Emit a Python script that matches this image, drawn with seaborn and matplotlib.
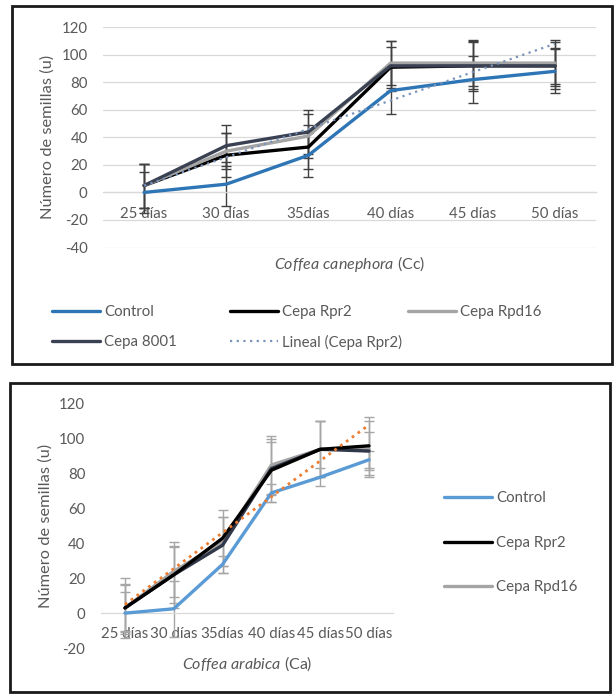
import numpy as np
import pandas as pd
import matplotlib
matplotlib.use("Agg")
import matplotlib.pyplot as plt
import seaborn as sns
from matplotlib.lines import Line2D
from matplotlib.patches import Rectangle

# ---------------- data ----------------
categories = ["25 días", "30 días", "35días", "40 días", "45 días", "50 días"]

# Coffea canephora (Cc)
cc_control = [0, 6, 27, 74, 82, 88]
cc_rpr2 = [5, 27, 33, 91, 92, 92]
cc_rpd16 = [5, 30, 41, 94, 94, 94]
cc_8001 = [5, 34, 44, 92, 92, 92]
cc_control_err = [15, 16, 16, 17, 17, 16]
cc_rpr2_err = [16, 16, 16, 15, 17, 17]
cc_rpd16_err = [16, 13, 16, 16, 17, 17]
cc_8001_err = [16, 15, 16, 18, 18, 13]
cc_trend_ends = [5, 108]  # Lineal (Cepa Rpr2), first and last category

# Coffea arabica (Ca)
ca_control = [0, 2.5, 28, 69, 78, 88]
ca_rpr2 = [3, 22, 43, 82, 94, 96]
ca_rpd16 = [3, 24, 41, 85, 94, 94]
ca_8001 = [3, 22, 39, 83, 94, 93]
ca_control_err = [12, 16, 5, 5, 5, 5]
ca_rpr2_err = [17, 19, 16, 18, 16, 16.5]
ca_rpd16_err = [14, 14.5, 14, 16.5, 16, 16]
ca_8001_err = [13, 16, 16, 15, 16, 11]
ca_trend_ends = [5, 108]

cc_ticks = list(range(-40, 121, 20))
ca_ticks = list(range(-20, 121, 20))

# ---------------- style ----------------
W, H = 615, 696
sns.set_theme(style="white")
plt.rcParams["font.family"] = ["Lato", "DejaVu Sans"]
plt.rcParams["axes.unicode_minus"] = False
plt.rcParams["mathtext.fontset"] = "custom"
plt.rcParams["mathtext.rm"] = "Lato"
plt.rcParams["mathtext.it"] = "Lato:italic"
TXT = "#595959"

fig = plt.figure(figsize=(W / 100, H / 100), dpi=100)
fig.patch.set_facecolor("white")


def px_axes(l, t, r, b):
    return fig.add_axes([l / W, 1 - b / H, (r - l) / W, (b - t) / H])


def draw_panel(ax, series, errs, palette, order, trend_ends, trend_kw,
               ticks, err_color, grid, xpad, title, title_y, ylab_x):
    pos = np.arange(len(categories))
    for name in order:
        ax.errorbar(pos, series[name], yerr=errs[name], fmt="none",
                    ecolor=err_color, elinewidth=1.0, capsize=3.5,
                    capthick=1.0, zorder=2)
    df = pd.concat([pd.DataFrame({"pos": pos, "value": series[n], "serie": n})
                    for n in order], ignore_index=True)
    sns.lineplot(data=df, x="pos", y="value", hue="serie", hue_order=order,
                 palette=palette, linewidth=2.4, legend=False, ax=ax,
                 errorbar=None, sort=False, zorder=3)
    ax.plot([pos[0], pos[-1]], trend_ends, zorder=4, **trend_kw)
    ax.set_xlim(-0.5, len(categories) - 0.5)
    ax.set_ylim(ticks[0], ticks[-1])
    ax.set_yticks(ticks)
    ax.set_yticklabels([str(t) for t in ticks])
    ax.set_xticks(pos)
    ax.set_xticklabels(categories)
    for s in ["top", "right", "left"]:
        ax.spines[s].set_visible(False)
    ax.spines["bottom"].set_position(("data", 0))
    ax.spines["bottom"].set_color("#D9D9D9")
    ax.spines["bottom"].set_linewidth(0.9)
    if grid:
        ax.yaxis.grid(True, color="#D9D9D9", linewidth=0.9)
    ax.set_axisbelow(True)
    ax.tick_params(axis="y", length=0, pad=11, labelsize=10.8, labelcolor=TXT)
    ax.tick_params(axis="x", length=0, pad=xpad, labelsize=10.8, labelcolor=TXT)
    ax.set_xlabel(title, fontsize=11.5, color=TXT)
    ax.xaxis.set_label_coords(0.5, title_y)
    ax.xaxis.label.set_verticalalignment("center")
    ax.set_ylabel("Número de semillas (u)", fontsize=11.8, color=TXT)
    ax.yaxis.set_label_coords(ylab_x, 0.5)
    ax.yaxis.label.set_verticalalignment("center")
    ax.set_facecolor("none")


def legend_entry(handle, label, x, y, fs=10.8):
    fig.legend(handles=[handle], labels=[label], loc="center left",
               bbox_to_anchor=(x / W, 1 - y / H), frameon=False,
               borderpad=0, borderaxespad=0, handlelength=48 / (fs * 1.389),
               handletextpad=0.3, fontsize=fs, labelcolor=TXT)


# ---------------- top panel: Coffea canephora ----------------
cc_colors = {"Control": "#2E75B6", "Cepa Rpr2": "#000000",
             "Cepa Rpd16": "#A5A5A5", "Cepa 8001": "#3A4152"}
cc_order = ["Control", "Cepa Rpr2", "Cepa Rpd16", "Cepa 8001"]
cc_series = {"Control": cc_control, "Cepa Rpr2": cc_rpr2,
             "Cepa Rpd16": cc_rpd16, "Cepa 8001": cc_8001}
cc_errs = {"Control": cc_control_err, "Cepa Rpr2": cc_rpr2_err,
           "Cepa Rpd16": cc_rpd16_err, "Cepa 8001": cc_8001_err}
cc_trend_kw = dict(color="#7A93B8", linewidth=1.6, linestyle=(0, (1, 2)))

ax1 = px_axes(103, 27.3, 596, 247.5)
l, r = 103, 596
draw_panel(ax1, cc_series, cc_errs, cc_colors, cc_order, cc_trend_ends,
           cc_trend_kw, cc_ticks, "#404040", True, 10.5,
           r"$\it{Coffea\ canephora}$ (Cc)", (247.5 - 264) / 220.2,
           (48 - l) / (r - l))

y1, y2 = 312, 342
legend_entry(Line2D([], [], color=cc_colors["Control"], lw=2.4), "Control", 52, y1)
legend_entry(Line2D([], [], color=cc_colors["Cepa Rpr2"], lw=2.4), "Cepa Rpr2", 230, y1)
legend_entry(Line2D([], [], color=cc_colors["Cepa Rpd16"], lw=2.4), "Cepa Rpd16", 408, y1)
legend_entry(Line2D([], [], color=cc_colors["Cepa 8001"], lw=2.4), "Cepa 8001", 52, y2)
legend_entry(Line2D([], [], **cc_trend_kw), "Lineal (Cepa Rpr2)", 230, y2)

# ---------------- bottom panel: Coffea arabica ----------------
ca_colors = {"Control": "#5B9BD5", "Cepa Rpr2": "#000000",
             "Cepa Rpd16": "#A5A5A5", "Cepa 8001": "#2F3748"}
ca_order = ["Control", "Cepa Rpd16", "Cepa 8001", "Cepa Rpr2"]
ca_series = {"Control": ca_control, "Cepa Rpr2": ca_rpr2,
             "Cepa Rpd16": ca_rpd16, "Cepa 8001": ca_8001}
ca_errs = {"Control": ca_control_err, "Cepa Rpr2": ca_rpr2_err,
           "Cepa Rpd16": ca_rpd16_err, "Cepa 8001": ca_8001_err}
ca_trend_kw = dict(color="#ED7D31", linewidth=2.0, linestyle=(0, (1, 1.6)))

l2, r2 = 100.6, 393.4
ax2 = px_axes(l2, 404, r2, 648)
draw_panel(ax2, ca_series, ca_errs, ca_colors, ca_order, ca_trend_ends,
           ca_trend_kw, ca_ticks, "#A6A6A6", False, 10,
           r"$\it{Coffea\ arabica}$ (Ca)", (648 - 664) / 244,
           (46 - l2) / (r2 - l2))

legend_entry(Line2D([], [], color=ca_colors["Control"], lw=2.4), "Control", 444, 498)
legend_entry(Line2D([], [], color=ca_colors["Cepa Rpr2"], lw=2.4), "Cepa Rpr2", 444, 543)
legend_entry(Line2D([], [], color=ca_colors["Cepa Rpd16"], lw=2.4), "Cepa Rpd16", 444, 587)

# ---------------- frames ----------------
for (l0, t0, r0, b0) in [(12, 6, 612, 364), (10, 383, 610, 692)]:
    fig.add_artist(Rectangle((l0 / W, 1 - b0 / H), (r0 - l0) / W, (b0 - t0) / H,
                             transform=fig.transFigure, fill=False,
                             edgecolor="#1A1A1A", linewidth=2.0))

fig.savefig("out.png", dpi=100, facecolor="white")
